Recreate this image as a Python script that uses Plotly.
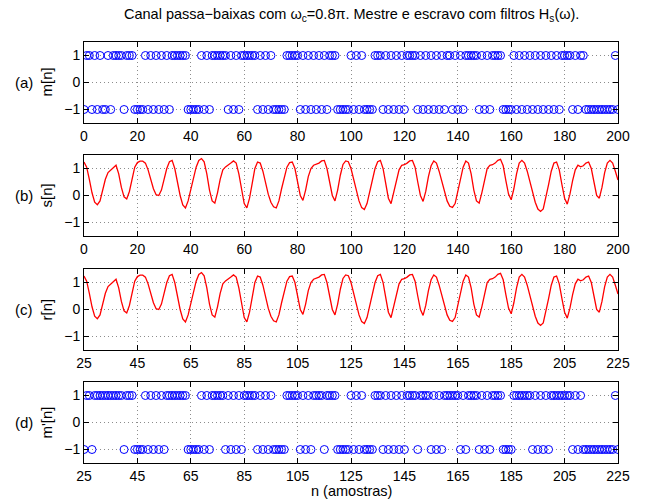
import plotly.graph_objects as go

# ---------------- data ----------------
n_ab = list(range(0, 201))          # sample index for panels (a) and (b)
n_cd = list(range(25, 226))         # sample index for panels (c) and (d)

m_vals = [
    -1, 1, 1, -1, 1, -1, 1, -1, -1, 1, -1, 1, 1, 1, 1, -1, 1, 1, 1, -1,
    -1, -1, -1, 1, -1, 1, -1, 1, -1, 1, -1, 1, -1, 1, 1, 1, 1, 1, 1, -1,
    -1, -1, -1, -1, 1, -1, 1, -1, 1, 1, 1, 1, 1, 1, -1, 1, -1, 1, -1, 1,
    1, 1, 1, 1, 1, -1, 1, -1, 1, -1, 1, -1, -1, -1, -1, -1, 1, 1, 1, 1,
    1, -1, 1, -1, 1, -1, 1, -1, 1, -1, 1, -1, 1, 1, 1, -1, -1, -1, -1, -1,
    1, -1, 1, -1, 1, -1, -1, -1, -1, 1, 1, 1, -1, 1, -1, 1, -1, 1, -1, 1,
    -1, 1, 1, 1, 1, -1, 1, -1, 1, -1, 1, -1, 1, -1, 1, -1, 1, 1, -1, 1,
    -1, 1, -1, 1, 1, 1, 1, 1, -1, 1, -1, 1, -1, 1, 1, 1, 1, -1, -1, -1,
    -1, 1, -1, 1, -1, 1, -1, 1, -1, 1, -1, 1, -1, 1, -1, 1, -1, 1, -1, 1,
    1, 1, 1, -1, 1, -1, 1, 1, -1, -1, -1, -1, -1, -1, -1, -1, -1, -1, -1, 1,
    -1,
]

s_vals = [
    1.24, 1.05, 0.60, 0.10, -0.25, -0.34, -0.20, 0.20, 0.60, 0.85,
    0.95, 1.05, 1.12, 0.80, 0.30, -0.05, -0.13, 0.15, 0.65, 1.05,
    1.22, 1.27, 1.27, 1.20, 0.95, 0.60, 0.25, 0.03, 0.00, 0.20,
    0.60, 1.00, 1.25, 1.30, 1.00, 0.50, 0.00, -0.35, -0.46, -0.20,
    0.25, 0.70, 1.05, 1.30, 1.37, 1.25, 0.80, 0.20, -0.20, -0.28,
    0.10, 0.60, 0.95, 1.06, 1.12, 1.20, 1.28, 1.20, 0.80, 0.20,
    -0.30, -0.46, -0.10, 0.45, 1.00, 1.24, 1.20, 0.90, 0.45, 0.05,
    -0.25, -0.42, -0.46, -0.20, 0.25, 0.70, 1.05, 1.22, 1.24, 1.00,
    0.50, 0.00, -0.18, 0.20, 0.70, 1.00, 1.12, 1.15, 1.20, 1.28,
    1.30, 1.00, 0.45, 0.00, -0.20, 0.20, 0.75, 1.15, 1.28, 1.25,
    1.00, 0.60, 0.15, -0.20, -0.45, -0.52, -0.30, 0.15, 0.60, 1.00,
    1.25, 1.30, 1.00, 0.40, -0.10, -0.30, 0.10, 0.60, 0.95, 1.12,
    1.14, 1.20, 1.28, 1.30, 1.05, 0.50, 0.00, -0.22, 0.15, 0.70,
    1.10, 1.28, 1.20, 0.90, 0.50, 0.10, -0.20, -0.40, -0.44, -0.30,
    0.15, 0.65, 1.05, 1.28, 1.20, 0.80, 0.20, -0.20, -0.28, 0.10,
    0.60, 1.00, 1.12, 1.14, 1.20, 1.30, 1.34, 1.10, 0.55, 0.05,
    -0.16, 0.25, 0.80, 1.20, 1.30, 1.20, 0.90, 0.50, 0.10, -0.25,
    -0.50, -0.59, -0.50, -0.10, 0.40, 0.90, 1.20, 1.24, 0.95, 0.40,
    -0.10, -0.32, 0.05, 0.55, 0.95, 1.12, 1.06, 1.10, 1.20, 1.24,
    1.00, 0.50, 0.00, -0.10, 0.30, 0.85, 1.20, 1.30, 1.20, 0.90,
    0.57,
]

r_vals = list(s_vals)   # received signal looks identical, shown on n = 25..225

m2_vals = [
    -1, 1, 1, -1, 1, 1, 1, 1, 1, 1, 1, 1, 1, 1, 1, -1, 1, 1, 1, -1,
    -1, -1, -1, 1, -1, 1, -1, 1, -1, 1, -1, 1, 1, 1, 1, 1, 1, 1, 1, -1,
    -1, -1, -1, -1, 1, -1, 1, -1, 1, 1, 1, 1, 1, -1, 1, -1, 1, -1, 1, -1,
    1, 1, 1, 1, 1, -1, 1, -1, 1, -1, 1, -1, -1, -1, -1, -1, 1, 1, 1, 1,
    1, -1, 1, -1, 1, -1, 1, 1, 1, 1, -1, 1, 1, 1, 1, -1, -1, -1, -1, -1,
    1, -1, 1, -1, 1, -1, -1, -1, -1, 1, 1, 1, -1, 1, -1, 1, -1, 1, -1, 1,
    -1, 1, 1, 1, 1, -1, 1, 1, 1, 1, -1, 1, -1, 1, -1, 1, 1, 1, 1, 1,
    1, -1, 1, -1, 1, 1, 1, 1, -1, 1, -1, 1, -1, 1, 1, 1, 1, -1, -1, -1,
    -1, 1, 1, 1, 1, 1, 1, 1, -1, 1, -1, 1, -1, 1, -1, 1, 1, 1, 1, 1,
    1, 1, 1, -1, 1, -1, 1, -1, -1, -1, -1, -1, -1, -1, -1, -1, -1, -1, -1, 1,
    -1,
]

xticks_ab = list(range(0, 201, 20))
xticks_cd = list(range(25, 226, 20))
yticks = [-1, 0, 1]
panel_tags = ["(a)", "(b)", "(c)", "(d)"]
panel_ylabels = ["m[n]", "s[n]", "r[n]", "m'[n]"]
title_text = ("Canal passa\u2212baixas com \u03c9<sub>c</sub>=0.8\u03c0. "
              "Mestre e escravo com filtros H<sub>s</sub>(\u03c9).")
xlabel_text = "n (amostras)"

# ---------------- figure ----------------
FONT = "Liberation Sans, Arial, Helvetica, sans-serif"
BLUE = "#0000ff"
RED = "#ff0000"

fig = go.Figure()

fig.add_trace(go.Scatter(x=n_ab, y=m_vals, mode="markers", xaxis="x", yaxis="y",
                         marker=dict(symbol="circle-open", size=8, color=BLUE,
                                     line=dict(width=1, color=BLUE)),
                         showlegend=False))
fig.add_trace(go.Scatter(x=n_ab, y=s_vals, mode="lines", xaxis="x2", yaxis="y2",
                         line=dict(color=RED, width=1.3), showlegend=False))
fig.add_trace(go.Scatter(x=n_cd, y=r_vals, mode="lines", xaxis="x3", yaxis="y3",
                         line=dict(color=RED, width=1.3), showlegend=False))
fig.add_trace(go.Scatter(x=n_cd, y=m2_vals, mode="markers", xaxis="x4", yaxis="y4",
                         marker=dict(symbol="circle-open", size=8, color=BLUE,
                                     line=dict(width=1, color=BLUE)),
                         showlegend=False))

# plot area (page px): x 84..618, y 42..463 ; body margin removed by post_script
W, H = 647, 503
L, R, T, B = 84, 647 - 618, 42, 503 - 463
ph = H - T - B
pw = W - L - R
panels_px = [(42, 123), (155, 236), (269, 350), (382, 463)]


def ypaper(page_y):
    return (H - B - page_y) / ph


def xpaper(page_x):
    return (page_x - L) / pw


domains = [[ypaper(b), ypaper(t)] for t, b in panels_px]
domains[0][1] = 1.0
domains[3][0] = 0.0

axis_common = dict(showline=True, linecolor="black", linewidth=1, mirror="allticks",
                   ticks="inside", ticklen=5, tickcolor="black", tickwidth=1,
                   showgrid=True, gridcolor="#8c8c8c", griddash="1px,3px", gridwidth=1,
                   zeroline=False, tickfont=dict(family=FONT, size=14, color="black"))

layout = dict(width=W, height=H, margin=dict(l=L, r=R, t=T, b=B),
              paper_bgcolor="white", plot_bgcolor="white",
              font=dict(family=FONT, size=14, color="black"))

for i in range(4):
    k = "" if i == 0 else str(i + 1)
    xt = xticks_ab if i < 2 else xticks_cd
    xr = [0, 200] if i < 2 else [25, 225]
    layout["xaxis" + k] = dict(axis_common, domain=[0, 1], range=xr, tickvals=xt,
                               anchor="y" + k)
    layout["yaxis" + k] = dict(axis_common, domain=domains[i], range=[-1.5, 1.5],
                               tickvals=yticks, anchor="x" + k)

fig.update_layout(**layout)

annots = []
for i in range(4):
    t, b = panels_px[i]
    yc = ypaper((t + b) / 2)
    annots.append(dict(text=panel_tags[i], xref="paper", yref="paper",
                       x=xpaper(24), y=yc, showarrow=False,
                       xanchor="center", yanchor="middle",
                       font=dict(family=FONT, size=15)))
    annots.append(dict(text=panel_ylabels[i], xref="paper", yref="paper",
                       x=xpaper(46), y=yc, showarrow=False, textangle=-90,
                       xanchor="center", yanchor="middle",
                       font=dict(family=FONT, size=15)))
annots.append(dict(text=title_text, xref="paper", yref="paper",
                   x=0.5, y=ypaper(15), showarrow=False,
                   xanchor="center", yanchor="middle",
                   font=dict(family=FONT, size=14.5)))
annots.append(dict(text=xlabel_text, xref="paper", yref="paper",
                   x=0.5, y=ypaper(491), showarrow=False,
                   xanchor="center", yanchor="middle",
                   font=dict(family=FONT, size=14.5)))
fig.update_layout(annotations=annots)

fig.write_html("out.html",
               config={"displayModeBar": False},
               post_script="document.body.style.margin='0px';"
                           "document.body.style.padding='0px';")
